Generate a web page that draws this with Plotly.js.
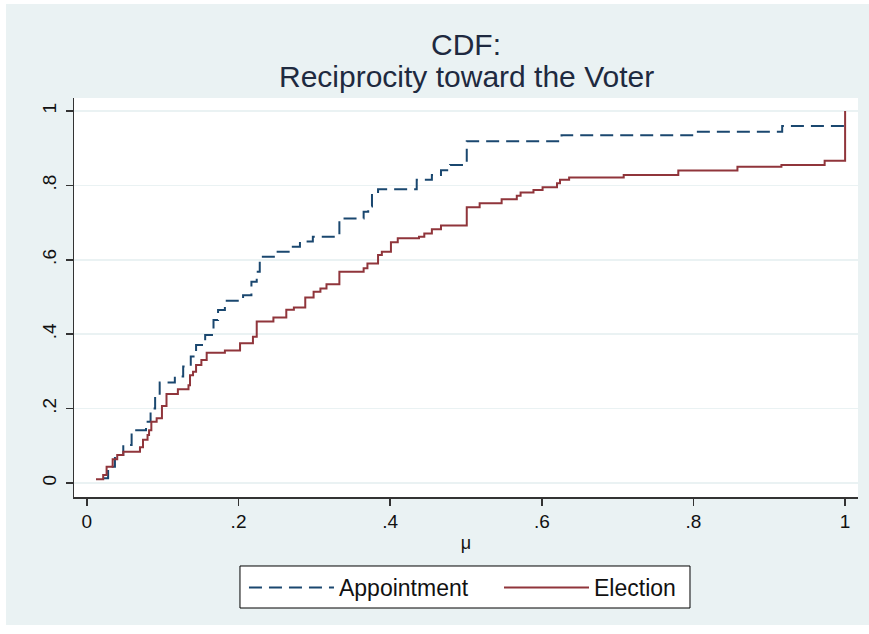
<!DOCTYPE html>
<html>
<head>
<meta charset="utf-8">
<script src="https://cdn.plot.ly/plotly-3.0.1.min.js"></script>
<style>html,body{margin:0;padding:0;background:#fff;}#chart{width:869px;height:634px;}</style>
</head>
<body>
<div id="chart"></div>
<script>
var appointmentX = [0.0215,0.028,0.037,0.048,0.059,0.078,0.084,0.090,0.096,0.116,0.127,0.137,0.144,0.156,0.167,0.173,0.182,0.206,0.217,0.224,0.228,0.250,0.268,0.281,0.298,0.333,0.365,0.371,0.376,0.384,0.435,0.455,0.467,0.479,0.501,0.626,0.800,0.917,1.0];
var appointmentY = [0.013,0.044,0.075,0.102,0.142,0.165,0.200,0.237,0.270,0.286,0.313,0.340,0.371,0.398,0.438,0.465,0.490,0.505,0.541,0.568,0.608,0.622,0.635,0.649,0.662,0.711,0.729,0.743,0.777,0.790,0.815,0.828,0.841,0.855,0.919,0.935,0.944,0.960,0.960];
var electionX = [0.012,0.0215,0.026,0.034,0.040,0.048,0.070,0.074,0.080,0.082,0.085,0.092,0.099,0.105,0.120,0.134,0.136,0.140,0.144,0.151,0.158,0.182,0.202,0.219,0.224,0.246,0.263,0.273,0.288,0.299,0.308,0.316,0.333,0.365,0.370,0.384,0.389,0.401,0.410,0.438,0.445,0.455,0.467,0.501,0.518,0.547,0.567,0.572,0.589,0.601,0.620,0.624,0.636,0.708,0.780,0.858,0.916,0.973,1.0];
var electionY = [0.010,0.0215,0.044,0.064,0.075,0.084,0.096,0.116,0.129,0.142,0.165,0.174,0.207,0.239,0.252,0.263,0.290,0.299,0.317,0.331,0.350,0.356,0.376,0.393,0.434,0.445,0.466,0.472,0.499,0.514,0.523,0.534,0.568,0.577,0.590,0.613,0.622,0.647,0.658,0.662,0.671,0.682,0.692,0.741,0.752,0.763,0.772,0.781,0.788,0.795,0.806,0.815,0.821,0.828,0.840,0.850,0.855,0.866,1.0];
var tickVals = [0,0.2,0.4,0.6,0.8,1];
var tickText = ['0','.2','.4','.6','.8','1'];
var seriesNames = ['Appointment','Election'];
var titleLines = ['CDF:','Reciprocity toward the Voter'];
var xTitle = 'μ';

var FONT = 'Liberation Sans, Arial, sans-serif';
var traces = [
  {x: appointmentX, y: appointmentY, name: seriesNames[0], type: 'scatter', mode: 'lines', legend: 'legend',
   line: {shape: 'hv', color: '#1a476f', width: 2, dash: '13px,7px'}},
  {x: electionX, y: electionY, name: seriesNames[1], type: 'scatter', mode: 'lines', legend: 'legend2',
   line: {shape: 'hv', color: '#90353b', width: 2}}
];

var legendCommon = {
  orientation: 'h', xanchor: 'left', y: -0.173, yanchor: 'top',
  bgcolor: 'rgba(0,0,0,0)', borderwidth: 0,
  font: {size: 23, family: FONT, color: '#111'}, itemwidth: 85
};

var layout = {
  width: 869, height: 634,
  margin: {l: 74, r: 11, t: 98, b: 137, pad: 0},
  paper_bgcolor: '#ffffff',
  plot_bgcolor: '#ffffff',
  font: {family: FONT, color: '#111', size: 19},
  showlegend: true,
  xaxis: {
    range: [-0.017, 1.017], tickvals: tickVals, ticktext: tickText,
    showgrid: false, zeroline: false, showline: true, linecolor: '#333', linewidth: 1.5,
    ticks: 'outside', ticklen: 7, tickwidth: 1.5, tickcolor: '#333',
    tickfont: {size: 19, family: FONT, color: '#111'},
    title: {text: xTitle, font: {size: 18, family: FONT, color: '#111'}, standoff: 5},
    fixedrange: true
  },
  yaxis: {
    range: [-0.0376, 1.035], tickvals: tickVals, ticktext: tickText,
    showgrid: true, gridcolor: '#eaf2f3', gridwidth: 1.5, zeroline: false,
    showline: true, linecolor: '#333', linewidth: 1.5,
    ticks: 'outside', ticklen: 7, tickwidth: 1.5, tickcolor: '#333',
    tickangle: -90, ticklabelstandoff: 2,
    tickfont: {size: 19, family: FONT, color: '#111'},
    fixedrange: true
  },
  legend: Object.assign({}, legendCommon, {x: 0.2168}),
  legend2: Object.assign({}, legendCommon, {x: 0.5421}),
  shapes: [
    {type: 'rect', xref: 'paper', yref: 'paper', x0: -0.0867, x1: 1.02, y0: -0.3208, y1: 1.2356,
     fillcolor: '#eaf2f3', line: {width: 0}, layer: 'below'},
    {type: 'rect', xref: 'paper', yref: 'paper', x0: 0, x1: 1, y0: 0, y1: 1,
     fillcolor: '#ffffff', line: {width: 0}, layer: 'below'},
    {type: 'rect', xref: 'paper', yref: 'paper', x0: 0.2117, x1: 0.7857, y0: -0.2782, y1: -0.1729,
     fillcolor: '#ffffff', line: {width: 1, color: '#000000'}, layer: 'below'}
  ],
  annotations: [
    {text: titleLines[0], xref: 'paper', yref: 'paper', x: 0.5, y: 1.1353, xanchor: 'center', yanchor: 'middle',
     showarrow: false, font: {size: 30, family: FONT, color: '#1e2a40'}},
    {text: titleLines[1], xref: 'paper', yref: 'paper', x: 0.5, y: 1.0551, xanchor: 'center', yanchor: 'middle',
     showarrow: false, font: {size: 30, family: FONT, color: '#1e2a40'}}
  ]
};

Plotly.newPlot('chart', traces, layout, {displayModeBar: false, staticPlot: true});
</script>
</body>
</html>
